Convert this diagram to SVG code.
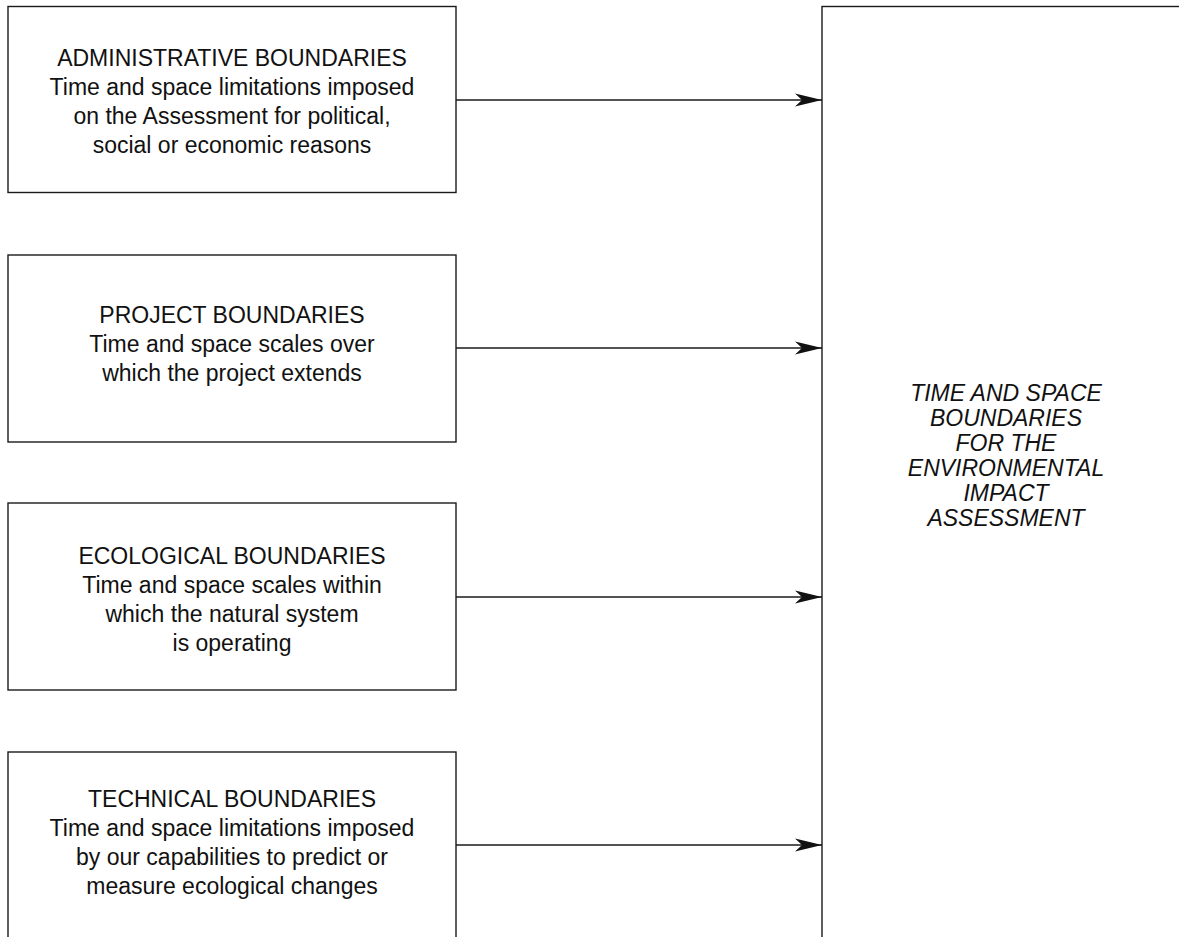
<svg xmlns="http://www.w3.org/2000/svg" width="1179" height="937" viewBox="0 0 1179 937">
<style>
.box{fill:#fff;stroke:#1a1a1a;stroke-width:1.4}
.t{font-family:"Liberation Sans",Arial,sans-serif;font-size:23px;fill:#111;text-anchor:middle}
.ti{font-family:"Liberation Sans",Arial,sans-serif;font-size:23px;font-style:italic;fill:#111;text-anchor:middle}
.conn{stroke:#1a1a1a;stroke-width:1.4;fill:none}
</style>
<defs>
<marker id="ah" markerUnits="userSpaceOnUse" markerWidth="30" markerHeight="14" viewBox="-28 -7 30 14" refX="0" refY="0" orient="auto">
<path d="M0,0 L-27,-6.5 L-20,0 L-27,6.5 Z" fill="#111"/>
</marker>
</defs>
<rect width="1179" height="937" fill="#fff"/>
<g id="target">
<rect class="box" x="822" y="6.5" width="400" height="1000"/>
<text class="ti" x="1006"><tspan x="1006" y="401">TIME AND SPACE</tspan><tspan x="1006" y="426">BOUNDARIES</tspan><tspan x="1006" y="451">FOR THE</tspan><tspan x="1006" y="476">ENVIRONMENTAL</tspan><tspan x="1006" y="501">IMPACT</tspan><tspan x="1006" y="526">ASSESSMENT</tspan></text>
</g>
<g id="administrative">
<rect class="box" x="8" y="6.5" width="448" height="186"/>
<text class="t"><tspan x="232" y="66">ADMINISTRATIVE BOUNDARIES</tspan><tspan x="232" y="95">Time and space limitations imposed</tspan><tspan x="232" y="124">on the Assessment for political,</tspan><tspan x="232" y="153">social or economic reasons</tspan></text>
</g>
<g id="project">
<rect class="box" x="8" y="255" width="448" height="187"/>
<text class="t"><tspan x="232" y="323">PROJECT BOUNDARIES</tspan><tspan x="232" y="352">Time and space scales over</tspan><tspan x="232" y="381">which the project extends</tspan></text>
</g>
<g id="ecological">
<rect class="box" x="8" y="503" width="448" height="187"/>
<text class="t"><tspan x="232" y="564">ECOLOGICAL BOUNDARIES</tspan><tspan x="232" y="593">Time and space scales within</tspan><tspan x="232" y="622">which the natural system</tspan><tspan x="232" y="651">is operating</tspan></text>
</g>
<g id="technical">
<rect class="box" x="8" y="752" width="448" height="300"/>
<text class="t"><tspan x="232" y="807">TECHNICAL BOUNDARIES</tspan><tspan x="232" y="836">Time and space limitations imposed</tspan><tspan x="232" y="865">by our capabilities to predict or</tspan><tspan x="232" y="894">measure ecological changes</tspan></text>
</g>
<g id="connectors">
<line class="conn" x1="456" y1="100" x2="822" y2="100" marker-end="url(#ah)"/>
<line class="conn" x1="456" y1="348" x2="822" y2="348" marker-end="url(#ah)"/>
<line class="conn" x1="456" y1="597" x2="822" y2="597" marker-end="url(#ah)"/>
<line class="conn" x1="456" y1="845" x2="822" y2="845" marker-end="url(#ah)"/>
</g>
</svg>
